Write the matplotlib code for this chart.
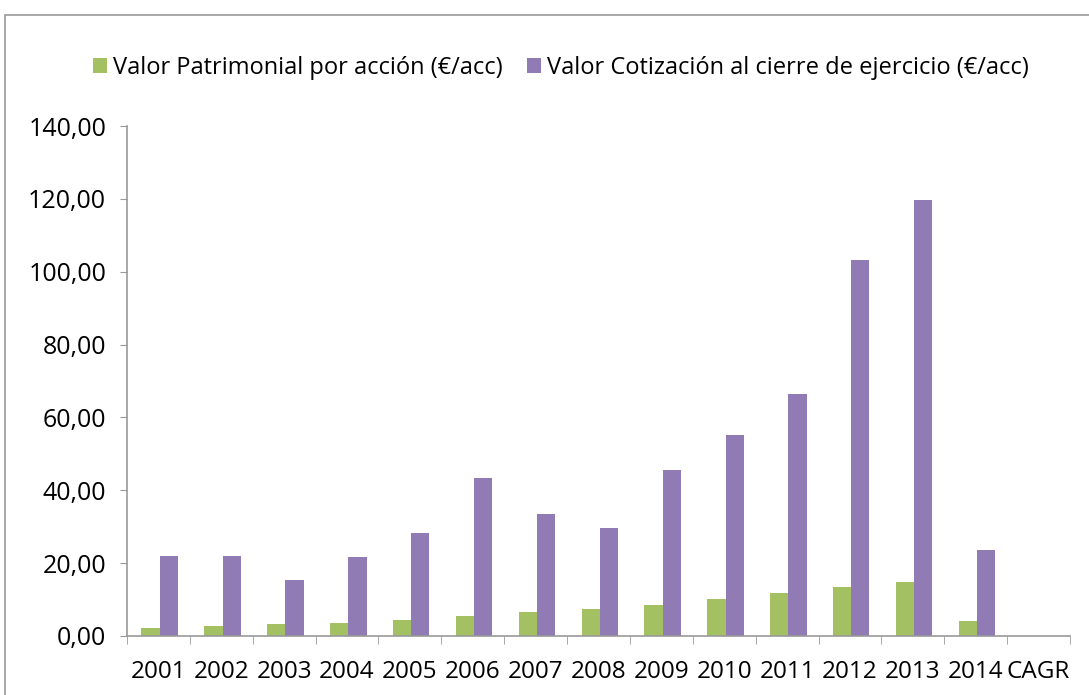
import matplotlib.pyplot as plt
import numpy as np
from matplotlib.patches import Rectangle

categories = ["2001", "2002", "2003", "2004", "2005", "2006", "2007",
              "2008", "2009", "2010", "2011", "2012", "2013", "2014", "CAGR"]
valor_patrimonial = [2.2, 2.8, 3.3, 3.6, 4.5, 5.4, 6.6, 7.4, 8.5, 10.1, 11.9, 13.4, 14.8, 4.2, np.nan]
valor_cotizacion = [22.0, 22.0, 15.5, 21.7, 28.2, 43.4, 33.4, 29.7, 45.5, 55.2, 66.5, 103.1, 119.8, 23.6, np.nan]

plt.rcParams['font.family'] = ['Open Sans', 'DejaVu Sans']

fig = plt.figure(figsize=(10.89, 6.95), dpi=100)
ax = fig.add_axes([0.1166, 0.0849, 0.866, 0.7338])

# outer chart frame (extends past right/bottom edges, like the cropped original)
fig.patches.append(Rectangle((0.0046, -0.05), 1.1, 1.028, transform=fig.transFigure,
                             fill=False, edgecolor='#999999', linewidth=1.2, clip_on=False))

x = np.arange(len(categories))
w = 0.29
ax.bar(x - w / 2 + 0.02, valor_patrimonial, width=w, color='#A3C163',
       label='Valor Patrimonial por acción (€/acc)')
ax.bar(x + w / 2 + 0.02, valor_cotizacion, width=w, color='#907BB4',
       label='Valor Cotización al cierre de ejercicio (€/acc)')

ax.set_xlim(-0.5, len(categories) - 0.5)
ax.set_ylim(0, 140)
yt = np.arange(0, 141, 20)
ax.set_yticks(yt)
ax.set_yticklabels([f"{v:.2f}".replace('.', ',') for v in yt], fontsize=18)

ax.set_xticks(x)
ax.set_xticklabels(categories, fontsize=17.5)
ax.set_xticks(np.arange(-0.5, len(categories), 1), minor=True)
ax.tick_params(axis='x', which='major', length=0, pad=17)
ax.tick_params(axis='x', which='minor', length=6, color='#999999')
ax.tick_params(axis='y', length=5, color='#999999', pad=10)

for s in ['top', 'right']:
    ax.spines[s].set_visible(False)
for s in ['left', 'bottom']:
    ax.spines[s].set_color('#999999')
    ax.spines[s].set_linewidth(1.2)

fig.legend(loc='center', bbox_to_anchor=(0.515, 0.902), ncol=2, frameon=False,
           fontsize=17, handlelength=0.6, handleheight=0.6, handletextpad=0.25,
           columnspacing=1.0)

fig.savefig('out.png', dpi=100)
